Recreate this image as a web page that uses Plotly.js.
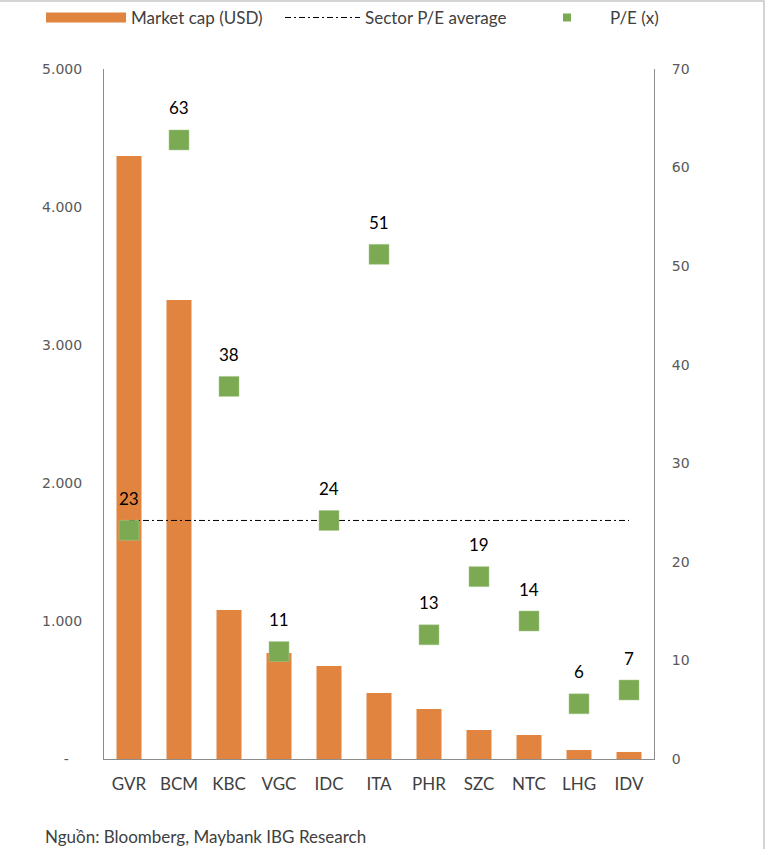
<!DOCTYPE html>
<html><head><meta charset="utf-8">
<script src="https://cdn.plot.ly/plotly-3.0.1.min.js"></script>
<style>html,body{margin:0;padding:0;background:#fff}#wrap{width:765px;height:849px;box-sizing:border-box;border-top:2px solid #d4d4d4;border-right:2px solid #d4d4d4;overflow:hidden}#chart{width:765px;height:849px;margin-top:-2px}</style>
</head><body><div id="wrap"><div id="chart"></div></div>
<script>
const tickers = ['GVR','BCM','KBC','VGC','IDC','ITA','PHR','SZC','NTC','LHG','IDV'];
const marketCap = [4370, 3326, 1080, 768, 674, 478, 362, 210, 174, 65, 51];
const pe = [23.2, 62.8, 37.8, 10.9, 24.2, 51.2, 12.6, 18.5, 14.0, 5.6, 7.0];
const sectorPE = 24.2;
const leftTicks = [0, 1000, 2000, 3000, 4000, 5000];
const leftTickText = ['-\u00a0\u00a0\u00a0', '1.000', '2.000', '3.000', '4.000', '5.000'];
const rightTicks = [0, 10, 20, 30, 40, 50, 60, 70];
const sourceText = 'Nguồn: Bloomberg, Maybank IBG Research';

const txt = '#404040';
const orange = '#E0843F';
const green = '#7BAA52';
const traces = [
  {type:'bar', name:'Market cap (USD)', x:tickers, y:marketCap, marker:{color:orange}, yaxis:'y', hoverinfo:'skip', showlegend:false},
  {type:'scatter', mode:'lines', name:'Market cap (USD)', x:[tickers[0]], y:[null], yaxis:'y', legend:'legend',
   line:{color:orange, width:10}, hoverinfo:'skip', showlegend:true},
  {type:'scatter', mode:'lines', name:'Sector P/E average', x:tickers, y:tickers.map(()=>sectorPE), yaxis:'y2', legend:'legend2',
   line:{color:'#000', width:1, dash:'6px,3px,2px,3px'}, hoverinfo:'skip'},
  {type:'scatter', mode:'markers', name:'P/E (x)', x:tickers, y:pe, yaxis:'y2', showlegend:false,
   marker:{symbol:'square', size:20, color:green, line:{color:'#a8c890', width:0.5}}, hoverinfo:'skip'},
  {type:'scatter', mode:'markers', name:'P/E (x)', x:[tickers[0]], y:[null], yaxis:'y2', legend:'legend3', showlegend:true,
   marker:{symbol:'square', size:8, color:green}, hoverinfo:'skip'}
];
const annotations = tickers.map((t,i)=>({x:t, y:pe[i], xref:'x', yref:'y2', text:String(Math.round(pe[i])),
  showarrow:false, yshift:32, font:{family:'Lato', size:17, color:'#000'}}));
annotations.push({xref:'paper', yref:'paper', x:-0.111, y:-0.113, xanchor:'left', yanchor:'middle', showarrow:false,
  text:sourceText, font:{family:'Lato', size:17, color:txt}});
const legBase = {orientation:'h', y:1.074, xanchor:'left', yanchor:'middle', bgcolor:'rgba(0,0,0,0)',
  font:{family:'Lato', size:17, color:txt}, itemsizing:'trace'};
const layout = {
  width:765, height:849,
  margin:{l:104, r:111, t:69, b:90, autoexpand:false},
  paper_bgcolor:'#fff', plot_bgcolor:'#fff',
  showlegend:true,
  legend:Object.assign({}, legBase, {x:-0.1145, itemwidth:80}),
  legend2:Object.assign({}, legBase, {x:0.32, itemwidth:75}),
  legend3:Object.assign({}, legBase, {x:0.7636, itemwidth:76}),
  bargap:0.5,
  xaxis:{type:'category', range:[-0.5, tickers.length - 0.5], showline:true, linecolor:'#8c8c8c', linewidth:1, ticks:'', showgrid:false, zeroline:false,
    tickfont:{family:'Lato', size:17, color:txt}, ticklabelstandoff:10, fixedrange:true},
  yaxis:{range:[0,5000], tickvals:leftTicks, ticktext:leftTickText, showline:true, linecolor:'#8c8c8c', linewidth:1,
    showgrid:false, zeroline:false, ticks:'', tickfont:{family:'DejaVu Sans', size:14, color:'#595959'}, ticklabelstandoff:18},
  yaxis2:{range:[0,70], overlaying:'y', side:'right', tickvals:rightTicks, showline:true, linecolor:'#8c8c8c', linewidth:1,
    showgrid:false, zeroline:false, ticks:'', tickfont:{family:'DejaVu Sans', size:14, color:'#595959'}, ticklabelstandoff:14},
  annotations:annotations
};
Plotly.newPlot('chart', traces, layout, {staticPlot:true, displayModeBar:false});
</script></body></html>
